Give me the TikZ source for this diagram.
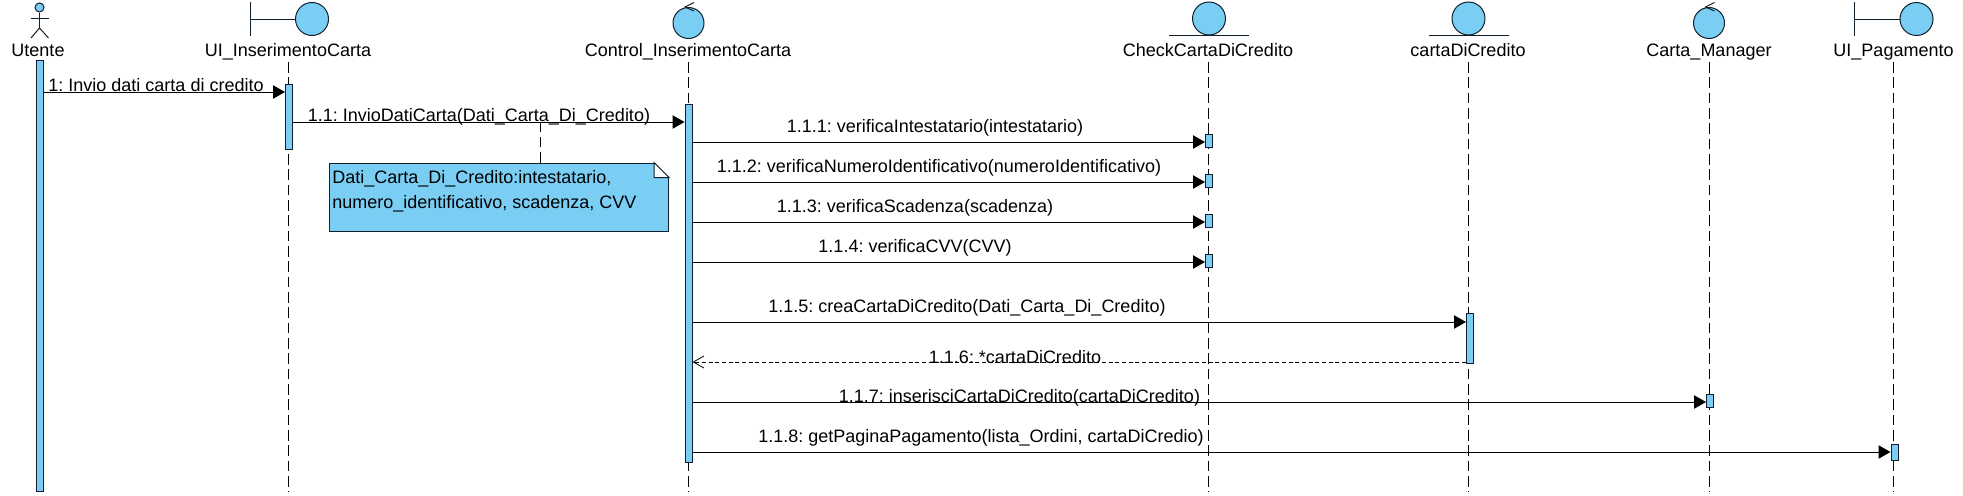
\documentclass[tikz,border=0pt]{standalone}
\usepackage{fontspec}
\setmainfont{Liberation Sans}
\usetikzlibrary{arrows.meta,positioning}
\definecolor{umlblue}{HTML}{7ACEF4}
\definecolor{umlline}{HTML}{10202C}
\frenchspacing

\begin{document}
\begin{tikzpicture}[
    x=0.75pt, y=-0.75pt,
    every node/.style={align=center},
    ball/.style={circle, draw=umlline, fill=umlblue, line width=0.75pt,
                 minimum size=24.75pt, inner sep=0pt},
    ctrlball/.style={ball, minimum size=23.25pt},
    headball/.style={ball, minimum size=6.75pt},
    icon/.style={draw=umlline, line width=0.75pt},
    lbl/.style={font=\fontsize{13.5}{15}\selectfont, inner sep=0pt, text height=9pt, text depth=3pt, outer sep=1.5pt},
    lbltxt/.style={font=\fontsize{13.5}{15}\selectfont, inner sep=0pt, anchor=base},
    barbox/.style={rectangle, draw=umlline, fill=umlblue, line width=0.75pt,
                   minimum width=5.25pt, inner sep=0pt},
    notebox/.style={rectangle, draw=umlline, fill=umlblue, line width=0.75pt,
                    minimum width=254.25pt, minimum height=51pt, inner sep=0pt},
    life/.style={draw=black, line width=0.5pt, dash pattern=on 8pt off 3.5pt},
    msg/.style={-{Triangle[length=9pt,width=10pt]}, draw=black, line width=0.75pt},
    ret/.style={-{Straight Barb[length=8pt,width=9pt]}, draw=black, line width=0.6pt,
                dash pattern=on 3pt off 2pt}
  ]
  \useasboundingbox (0,0) rectangle (1963,496);

  \node[lbl] (lblUtente) at (38, 52) {Utente};
  \node[lbl] (lblUI) at (288, 52) {UI\_InserimentoCarta};
  \node[lbl] (lblCtrl) at (688, 52) {Control\_InserimentoCarta};
  \node[lbl] (lblCheck) at (1208, 52) {CheckCartaDiCredito};
  \node[lbl] (lblCarta) at (1468, 52) {cartaDiCredito};
  \node[lbl] (lblMan) at (1709, 52) {Carta\_Manager};
  \node[lbl] (lblPag) at (1893.5, 52) {UI\_Pagamento};

  \coordinate (endUI) at (lblUI |- 0,492);
  \coordinate (endCtrl) at (lblCtrl |- 0,492);
  \coordinate (endCheck) at (lblCheck |- 0,492);
  \coordinate (endCarta) at (lblCarta |- 0,492);
  \coordinate (endMan) at (lblMan |- 0,492);
  \coordinate (endPag) at (lblPag |- 0,492);
  \draw[life] (lblUI.south) -- (endUI);
  \draw[life] (lblCtrl.south) -- (endCtrl);
  \draw[life] (lblCheck.south) -- (endCheck);
  \draw[life] (lblCarta.south) -- (endCarta);
  \draw[life] (lblMan.south) -- (endMan);
  \draw[life] (lblPag.south) -- (endPag);

  \node[headball] (head) at (39.5, 7.5) {};
  \coordinate (hip) at (39.5, 28);
  \coordinate (armL) at (31, 18);
  \coordinate (armR) at (48.5, 18);
  \coordinate (legL) at (31, 38);
  \coordinate (legR) at (48.5, 38);
  \draw[icon] (head.south) -- (hip);
  \draw[icon] (armL) -- (armR);
  \draw[icon] (legL) -- (hip) -- (legR);

  \node[ball] (ballUI) at (312, 19) {};
  \coordinate (wallUI) at (250, 19);
  \draw[icon] (wallUI) -- (ballUI.west);
  \draw[icon] ([shift={(0,-17)}]wallUI) -- ([shift={(0,17)}]wallUI);

  \node[ball] (ballPag) at (1916.5, 19) {};
  \coordinate (wallPag) at (1854.5, 19);
  \draw[icon] (wallPag) -- (ballPag.west);
  \draw[icon] ([shift={(0,-17)}]wallPag) -- ([shift={(0,17)}]wallPag);

  \node[ctrlball] (ballCtrl) at (688.5, 23) {};
  \draw[icon] ([shift={(5.5,-4.5)}]ballCtrl.north) -- ([shift={(-3.5,0)}]ballCtrl.north) -- ([shift={(5.5,4)}]ballCtrl.north);
  \node[ctrlball] (ballMan) at (1709, 23) {};
  \draw[icon] ([shift={(5.5,-4.5)}]ballMan.north) -- ([shift={(-3.5,0)}]ballMan.north) -- ([shift={(5.5,4)}]ballMan.north);

  \node[ball] (ballCheck) at (1209, 18.5) {};
  \draw[icon] ([shift={(-40,0)}]ballCheck.south) -- ([shift={(40,0)}]ballCheck.south);
  \node[ball] (ballCarta) at (1468.5, 18.5) {};
  \draw[icon] ([shift={(-40,0)}]ballCarta.south) -- ([shift={(40,0)}]ballCarta.south);

  \node[barbox, minimum height=323.25pt] (barUtente) at (39.5, 275.5) {};
  \node[barbox, minimum height=48.75pt] (barUI) at (289, 116.5) {};
  \node[barbox, minimum height=268.5pt] (barCtrl) at (688.5, 283) {};
  \node[barbox, minimum height=9.75pt] (barCheckA) at (1209, 140.5) {};
  \node[barbox, minimum height=9.75pt] (barCheckB) at (1209, 180.5) {};
  \node[barbox, minimum height=9.75pt] (barCheckC) at (1209, 220.5) {};
  \node[barbox, minimum height=9.75pt] (barCheckD) at (1209, 260.5) {};
  \node[barbox, minimum height=37.5pt] (barCarta) at (1470, 338) {};
  \node[barbox, minimum height=9.75pt] (barMan) at (1710, 400.5) {};
  \node[barbox, minimum height=12pt] (barPag) at (1894.5, 452) {};

  \node[notebox] (note) at (499, 197) {};
  \node[lbltxt, anchor=base west] (noteA) at (332, 183) {Dati\_Carta\_Di\_Credito:intestatario,};
  \node[lbltxt, anchor=base west] (noteB) at (332, 208) {numero\_identificativo, scadenza, CVV};
  \fill[white] ([shift={(-15,-1)}]note.north east) -- ([shift={(1,-1)}]note.north east) -- ([shift={(1,15)}]note.north east) -- cycle;
  \draw[icon, fill=white] ([shift={(-15,0)}]note.north east) -- ([shift={(0,15)}]note.north east) -- ([shift={(-15,15)}]note.north east) -- cycle;

  \draw[msg] (barUtente.east |- 0,92) -- (barUI.west |- 0,92);
  \draw[msg] (barUI.east |- 0,122) -- (barCtrl.west |- 0,122);
  \draw[msg] (barCtrl.east |- 0,142) -- (barCheckA.west |- 0,142);
  \draw[msg] (barCtrl.east |- 0,182) -- (barCheckB.west |- 0,182);
  \draw[msg] (barCtrl.east |- 0,222) -- (barCheckC.west |- 0,222);
  \draw[msg] (barCtrl.east |- 0,262) -- (barCheckD.west |- 0,262);
  \draw[msg] (barCtrl.east |- 0,322) -- (barCarta.west |- 0,322);
  \draw[ret] (barCarta.west |- 0,362) -- (barCtrl.east |- 0,362);
  \draw[msg] (barCtrl.east |- 0,402) -- (barMan.west |- 0,402);
  \draw[msg] (barCtrl.east |- 0,452) -- (barPag.west |- 0,452);
  \draw[life] (note.north -| 540,0) -- (540,122);

  \node[lbltxt] (txtA) at (156, 91) {1: Invio dati carta di credito};
  \node[lbltxt] (txtB) at (479, 121) {1.1: InvioDatiCarta(Dati\_Carta\_Di\_Credito)};
  \node[lbltxt] (txtC) at (935, 132) {1.1.1: verificaIntestatario(intestatario)};
  \node[lbltxt] (txtD) at (939, 172) {1.1.2: verificaNumeroIdentificativo(numeroIdentificativo)};
  \node[lbltxt] (txtE) at (915, 212) {1.1.3: verificaScadenza(scadenza)};
  \node[lbltxt] (txtF) at (915, 252) {1.1.4: verificaCVV(CVV)};
  \node[lbltxt] (txtG) at (967, 312) {1.1.5: creaCartaDiCredito(Dati\_Carta\_Di\_Credito)};
  \node[lbltxt] (txtH) at (1015, 363) {1.1.6: *cartaDiCredito};
  \node[lbltxt] (txtI) at (1019.5, 402) {1.1.7: inserisciCartaDiCredito(cartaDiCredito)};
  \node[lbltxt] (txtJ) at (981, 442) {1.1.8: getPaginaPagamento(lista\_Ordini, cartaDiCredio)};
\end{tikzpicture}
\end{document}
